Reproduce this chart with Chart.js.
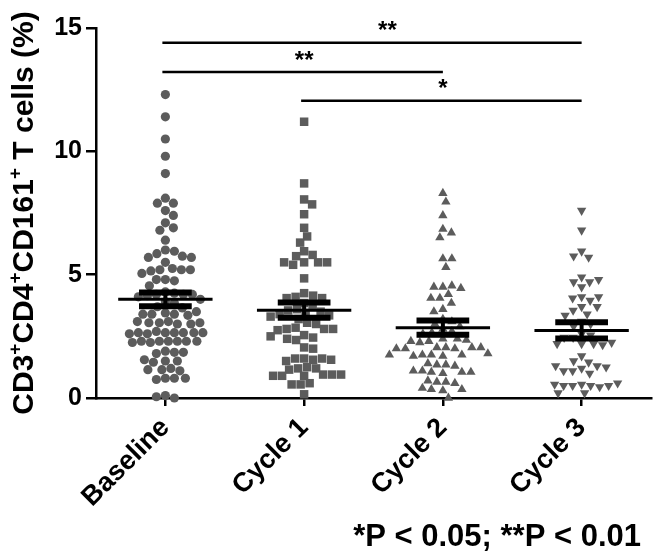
<!DOCTYPE html>
<html>
<head>
<meta charset="utf-8">
<script src="https://cdn.jsdelivr.net/npm/chart.js@4.4.1/dist/chart.umd.min.js"></script>
<style>
  html, body { margin: 0; padding: 0; background: #fff; }
  #wrap { width: 657px; height: 554px; }
</style>
</head>
<body>
<div id="wrap"><canvas id="c" width="657" height="554"></canvas></div>
<script>
// groups on the x axis
const groups = ['Baseline', 'Cycle 1', 'Cycle 2', 'Cycle 3'];

// individual values (%)
const baselineVals = [
  12.3, 11.4, 10.5, 9.8, 9.1,
  8.1, 7.9, 7.9, 7.6, 7.4, 7.1, 6.9, 6.8, 6.4,
  6.0, 5.95, 5.85, 5.75, 5.7, 5.7, 5.5,
  5.25, 5.2, 5.15, 5.2, 5.05, 5.2,
  4.8, 4.75, 4.8, 4.55,
  4.3, 4.25, 4.2, 4.2, 4.15, 4.2, 4.1, 4.0, 3.9, 3.85, 3.7, 3.65,
  3.45, 3.4, 3.4, 3.35, 3.4, 3.5,
  3.1, 3.05, 3.0, 3.05, 3.1, 3.0, 3.05,
  2.65, 2.65, 2.7, 2.65, 2.6, 2.65, 2.65, 2.6, 2.65,
  2.3, 2.3, 2.3, 2.25, 2.3, 2.3, 2.3, 2.25,
  1.9, 1.85, 1.8, 1.85,
  1.5, 1.5, 1.45, 1.55,
  1.2, 1.15, 1.1, 1.15,
  0.8, 0.8, 0.75, 0.8,
  0.1, 0.0, 0.05
];
const cycle1Vals = [
  11.2, 8.7, 8.05, 7.85, 7.45, 6.9, 6.55, 6.3, 5.95,
  5.8, 5.75, 5.5, 5.5, 5.4, 5.5, 5.5,
  4.85,
  4.25, 4.15, 4.1, 4.05, 4.05, 3.85, 3.7,
  3.6, 3.55, 3.5, 3.45, 3.4, 3.35, 3.3, 3.2,
  3.05, 3.0,
  2.85, 2.8, 2.8, 2.75, 2.8,
  2.55, 2.45, 2.35, 2.4, 2.5,
  2.05, 2.0,
  1.6, 1.55, 1.6, 1.6, 1.5, 1.55,
  1.25, 1.2, 1.2, 1.15,
  0.95, 0.9, 0.9, 0.95, 0.9, 0.95,
  0.6, 0.55, 0.55,
  0.15
];
const cycle2Vals = [
  8.3, 7.95, 7.4, 6.85, 6.7, 6.5, 5.65, 5.65, 5.3,
  4.5, 4.55, 4.5, 4.45, 4.2, 4.05, 4.05, 3.85, 3.6, 3.5,
  3.2, 3.1, 3.0, 2.9, 2.8, 2.7, 2.65, 2.6,
  2.4, 2.4, 2.35, 2.3, 2.25, 2.3,
  2.05, 2.05, 2.0, 2.05, 2.0, 2.05, 2.0,
  1.75, 1.75, 1.7, 1.75, 1.7, 1.8, 1.75,
  1.35, 1.35, 1.3, 1.4,
  1.05, 1.05, 1.0, 1.1, 1.05, 1.1,
  0.65, 0.65, 0.6, 0.7,
  0.35, 0.3, 0.35, 0.4,
  0.0
];
const cycle3Vals = [
  7.6, 6.8, 5.95, 5.7, 5.75,
  4.9, 4.7, 4.7, 4.8, 4.5,
  4.1, 3.95, 4.05, 4.1,
  3.7, 3.4, 3.55, 3.7, 3.35,
  3.1, 3.0, 2.9, 2.6, 2.55,
  2.45, 2.45,
  2.2, 2.2, 2.15, 2.2, 2.25,
  1.7, 1.45, 1.5,
  1.3, 1.2, 1.1, 1.0, 1.1, 1.25, 1.3,
  0.55, 0.5, 0.5, 0.45, 0.5, 0.5, 0.55, 0.6,
  0.2, 0.2
];

// mean +/- SEM per group
const means = [4.0, 3.56, 2.85, 2.74];
const sems = [0.28, 0.31, 0.29, 0.33];

// significance brackets: from group, to group, bar height, star x, label
const bracketFrom = [1, 1, 2];
const bracketTo = [4, 3, 4];
const bracketY = [14.4, 13.22, 12.05];
const bracketStarX = [2.6, 2.0, 3.0];
const bracketLabel = ['**', '**', '*'];

const FONT = '"Liberation Sans", Arial, sans-serif';
const DOT = '#5c5c5c';

const seriesVals = [baselineVals, cycle1Vals, cycle2Vals, cycle3Vals];
const shapes = ['circle', 'rect', 'triangle', 'triangle'];
const radii = [4.6, 6.0, 5.4, 5.4];
const rotations = [0, 0, 0, 180];

// mean line, SEM whiskers and the significance bars
const overlayPlugin = {
    id: 'overlay',
    afterDatasetsDraw(chart) {
        const ctx = chart.ctx;
        const xs = chart.scales.x, ys = chart.scales.y;
        const unit = xs.getPixelForValue(1) - xs.getPixelForValue(0);
        ctx.save();
        ctx.strokeStyle = '#000';
        ctx.lineCap = 'butt';
        means.forEach((m, i) => {
            const cx = xs.getPixelForValue(i + 1);
            const ym = ys.getPixelForValue(m);
            const yt = ys.getPixelForValue(m + sems[i]);
            const yb = ys.getPixelForValue(m - sems[i]);
            ctx.lineWidth = 3;
            ctx.beginPath();
            ctx.moveTo(cx - 0.34 * unit, ym); ctx.lineTo(cx + 0.34 * unit, ym);
            ctx.stroke();
            ctx.lineWidth = 4;
            ctx.beginPath();
            ctx.moveTo(cx, yt); ctx.lineTo(cx, yb);
            ctx.stroke();
            ctx.lineWidth = 6;
            ctx.beginPath();
            ctx.moveTo(cx - 0.19 * unit, yt); ctx.lineTo(cx + 0.19 * unit, yt);
            ctx.moveTo(cx - 0.19 * unit, yb); ctx.lineTo(cx + 0.19 * unit, yb);
            ctx.stroke();
        });
        ctx.lineWidth = 2.5;
        ctx.fillStyle = '#000';
        ctx.font = 'bold 24px ' + FONT;
        ctx.textAlign = 'center';
        ctx.textBaseline = 'middle';
        bracketY.forEach((y, i) => {
            const py = ys.getPixelForValue(y);
            ctx.beginPath();
            ctx.moveTo(xs.getPixelForValue(bracketFrom[i]) - 3, py);
            ctx.lineTo(xs.getPixelForValue(bracketTo[i]), py);
            ctx.stroke();
            ctx.fillText(bracketLabel[i], xs.getPixelForValue(bracketStarX[i]), py - 11);
        });
        ctx.restore();
    },
    afterDraw(chart) {
        const ctx = chart.ctx;
        ctx.save();
        ctx.fillStyle = '#000';
        // y title with superscripts, drawn rotated
        const parts = [['CD3', 0], ['+', 1], ['CD4', 0], ['+', 1], ['CD161', 0], ['+', 1], [' T cells (%)', 0]];
        const big = 'bold 30px ' + FONT, small = 'bold 19px ' + FONT;
        let total = 0;
        parts.forEach(p => { ctx.font = p[1] ? small : big; total += ctx.measureText(p[0]).width; });
        ctx.translate(33, 213);
        ctx.rotate(-Math.PI / 2);
        ctx.textBaseline = 'alphabetic';
        ctx.textAlign = 'left';
        let x = -total / 2;
        parts.forEach(p => {
            ctx.font = p[1] ? small : big;
            ctx.fillText(p[0], x, p[1] ? -12 : 0);
            x += ctx.measureText(p[0]).width;
        });
        ctx.restore();
        ctx.save();
        ctx.fillStyle = '#000';
        ctx.font = 'bold 31px ' + FONT;
        ctx.textAlign = 'right';
        ctx.textBaseline = 'alphabetic';
        ctx.fillText('*P < 0.05; **P < 0.01', 641, 546);
        ctx.restore();
    }
};

const chart = new Chart(document.getElementById('c'), {
    type: 'scatter',
    data: {
        datasets: seriesVals.map((vals, i) => ({
            label: groups[i],
            data: vals.map(v => ({ x: i + 1, y: v })),
            pointStyle: shapes[i],
            pointRadius: radii[i],
            pointRotation: rotations[i],
            backgroundColor: DOT,
            borderColor: DOT,
            borderWidth: 0,
            clip: false
        }))
    },
    options: {
        responsive: false,
        devicePixelRatio: 1,
        animation: false,
        layout: { padding: { left: 0, top: 28, right: 5, bottom: 0 } },
        plugins: { legend: { display: false }, tooltip: { enabled: false } },
        scales: {
            x: {
                type: 'linear',
                min: 0.5,
                max: 4.5,
                afterBuildTicks: (axis) => { axis.ticks = groups.map((g, i) => ({ value: i + 1 })); },
                afterFit: (scale) => { scale.height = 156; },
                ticks: {
                    autoSkip: false,
                    minRotation: 45,
                    maxRotation: 45,
                    padding: 6,
                    color: '#000',
                    font: { family: FONT, size: 27, weight: 'bold' },
                    callback: (v) => groups[v - 1]
                },
                grid: { drawOnChartArea: false, drawTicks: true, tickLength: 8, color: '#000', lineWidth: 2.5 },
                border: { display: true, color: '#000', width: 2.5 }
            },
            y: {
                min: 0,
                max: 15,
                afterFit: (scale) => { scale.width = 96; },
                ticks: {
                    stepSize: 5,
                    padding: 4,
                    color: '#000',
                    font: { family: FONT, size: 25, weight: 'bold' }
                },
                grid: { drawOnChartArea: false, drawTicks: true, tickLength: 10, color: '#000', lineWidth: 2.5 },
                border: { display: true, color: '#000', width: 2.5 }
            }
        }
    },
    plugins: [overlayPlugin]
});

// spread the dots sideways (beeswarm) so they do not overlap
function swarm(vals, yScale, diam) {
    const placed = [];
    return vals.map(v => {
        const py = yScale.getPixelForValue(v);
        let dx = 0;
        for (let k = 0; k < 800; k++) {
            const cand = (k % 2 ? 1 : -1) * Math.ceil(k / 2) * 0.5;
            const hit = placed.some(p => (p.x - cand) ** 2 + (p.y - py) ** 2 < diam * diam);
            if (!hit) { dx = cand; break; }
        }
        placed.push({ x: dx, y: py });
        return dx;
    });
}

const xs = chart.scales.x, ys = chart.scales.y;
const unit = xs.getPixelForValue(1) - xs.getPixelForValue(0);
seriesVals.forEach((vals, i) => {
    const offs = swarm(vals, ys, 9);
    chart.data.datasets[i].data = vals.map((v, j) => ({ x: i + 1 + offs[j] / unit, y: v }));
});
chart.update('none');
</script>
</body>
</html>
